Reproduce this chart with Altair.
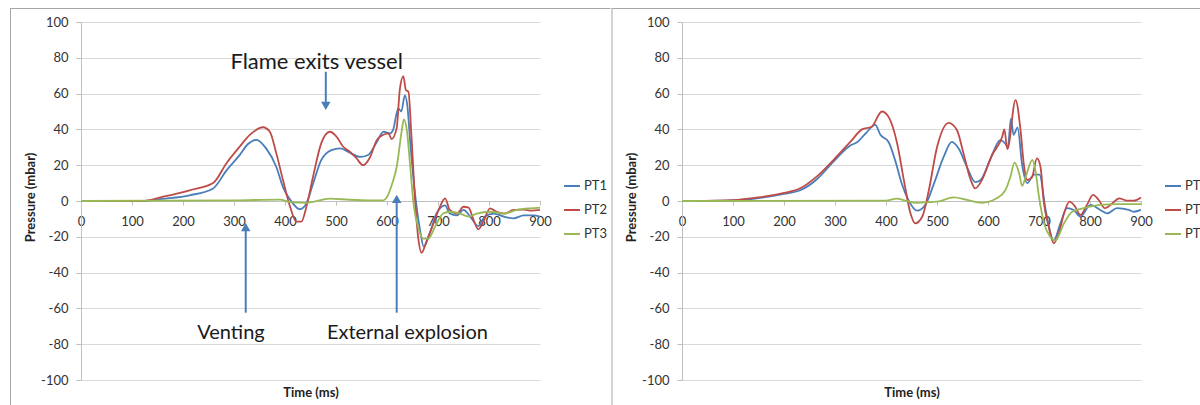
import altair as alt
import pandas as pd

# ---------------- data ----------------
SERIES = ["PT1", "PT2", "PT3"]
COLORS = ["#4A7EBB", "#BE4B48", "#98B954"]
X_TICKS = [0, 100, 200, 300, 400, 500, 600, 700, 800, 900]
Y_TICKS = [-100, -80, -60, -40, -20, 0, 20, 40, 60, 80, 100]

# Left panel
L_PT1_T = [0, 120, 160, 213, 259, 285, 311, 328, 344, 363, 383, 396, 413, 429, 442, 455, 471, 491, 508,
           527, 547, 563, 580, 593, 606, 612, 622, 628, 635, 640, 646, 655, 665, 672, 684, 697, 714, 723,
           737, 750, 763, 779, 792, 809, 829, 848, 868, 887, 900]
L_PT1_V = [0, 0, 1.2, 3.2, 7, 17, 25.6, 32, 34.2, 29.4, 19, 7.8, -0.4, -4.6, -1.3, 9.7, 22.8, 28.4, 29.4,
           27, 24.6, 25.7, 33, 38.7, 37.8, 39.7, 51.8, 50, 59, 53, 31, 4, -16.5, -25.5, -18, -7, -2.4, -7,
           -8, -5, -8.7, -14, -8.7, -7, -8.7, -9.7, -8, -8, -8.7]

L_PT2_T = [0, 120, 161, 213, 259, 285, 311, 331, 357, 370, 383, 396, 410, 422, 432, 442, 455, 471, 488,
           501, 514, 527, 540, 553, 566, 580, 593, 603, 609, 619, 625, 632, 637, 642, 648, 655, 661, 668,
           678, 691, 703, 714, 723, 737, 750, 760, 770, 779, 789, 802, 815, 831, 848, 868, 884, 900]
L_PT2_V = [0, 0, 2.4, 6, 10, 21, 30.3, 36.9, 41.2, 38.8, 26.6, 11.7, -3.2, -11.5, -11.5, -3.2, 13.6, 32.2,
           38.7, 36, 30.3, 27.6, 23.9, 20, 24, 34, 37, 37.8, 34.6, 40.7, 62, 69.8, 62, 61, 36, 0.4, -20,
           -28.9, -22, -12.7, -3.7, 1.5, -5, -7, -3.2, -3.7, -10.8, -15.8, -11.5, -4.1, -6, -7, -5, -4.8,
           -5.4, -5]

L_PT3_T = [0, 300, 390, 410, 442, 488, 527, 566, 593, 600, 609, 619, 629, 633, 639, 645, 652, 661, 671,
           681, 694, 710, 723, 743, 760, 776, 802, 829, 855, 881, 900]
L_PT3_V = [0, 0.3, 0.8, -0.6, -1, 1.3, 0.7, 0.4, 0.4, 2.2, 8.7, 19, 39.5, 45.6, 39.5, 21, -1.5, -14.5,
           -21, -21, -14.5, -7, -6, -7, -8.7, -7, -6, -7, -5, -4.1, -3.7]

# Right panel
R_PT1_T = [0, 100, 200, 232, 264, 297, 330, 344, 360, 379, 389, 405, 418, 431, 444, 461, 477, 494, 513,
           529, 543, 559, 575, 585, 605, 624, 634, 639, 645, 650, 658, 667, 677, 690, 701, 713, 729, 742,
           755, 768, 781, 801, 820, 834, 853, 876, 886, 900]
R_PT1_V = [0, 0.3, 4, 6, 12, 22, 31, 33, 37.7, 42.5, 37, 33, 22.7, 9.6, 0.5, -5.4, -2.2, 9.7, 24.6, 33,
           29, 18.8, 10.6, 11.6, 23.7, 34, 32, 30, 46, 37, 41, 20, 10, 14.7, 14.7, -5, -22, -12.5, -4, -5,
           -8.7, -2.2, -5, -6.9, -4, -5, -6, -5]

R_PT2_T = [0, 100, 150, 200, 232, 264, 297, 330, 353, 372, 392, 405, 422, 435, 448, 457, 471, 484, 500,
           523, 539, 552, 565, 575, 588, 608, 628, 632, 638, 654, 664, 670, 677, 686, 696, 703, 709, 719,
           729, 739, 749, 760, 771, 781, 794, 806, 817, 829, 844, 857, 873, 886, 900]
R_PT2_V = [0, 0.5, 2, 4.5, 7.1, 13.6, 22.9, 33, 40, 41.5, 50, 47, 32, 11.7, -6.9, -12.5, -8.8, 6, 30,
           43.7, 39.7, 26.6, 12.7, 7, 11.7, 25.7, 36, 40, 29, 56.4, 39, 21, 11.7, 13, 23.8, 19, 0.5, -14.3,
           -23.6, -18, -7, -0.4, -3.2, -7.8, -2.2, 3.4, 0.6, -4, -1.3, 1.5, 0.2, 0.2, 2]

R_PT3_T = [0, 400, 421, 440, 460, 500, 533, 559, 588, 617, 634, 644, 652, 661, 667, 674, 687, 693, 700,
           710, 722, 732, 749, 765, 788, 820, 853, 900]
R_PT3_V = [0, 0.2, 1.3, 0, -1, -0.4, 2, 0.6, -1, 1.5, 6, 13.6, 21.4, 15.5, 8.4, 13.6, 22.9, 17, 2.4,
           -12.5, -20, -22, -12.5, -6, -4, -2.2, -1.7, -1.7]

# Annotations (left panel)
ANN_TEXT = ["Flame exits vessel", "Venting", "External explosion"]
ANN_T = [462, 294, 640]
ANN_P = [73.7, -77.1, -77.1]
ANN_SIZE = [22, 20, 20]
ARROW_T = [480, 323, 619]
ARROW_TAIL = [72.2, -62.4, -62.4]
ARROW_HEAD = [53.1, -14.6, 1.2]
ARROW_DIR = ["down", "up", "up"]

# ---------------- chart ----------------
W, H = 459, 358


def long_df(ts, vs):
    rows = []
    for name, t, v in zip(SERIES, ts, vs):
        for a, b in zip(t, v):
            rows.append({"series": name, "t": a, "p": b})
    return pd.DataFrame(rows)


xs = alt.Scale(domain=[0, 900], nice=False, zero=False)
ys = alt.Scale(domain=[-100, 100], nice=False, zero=False)

x_axis = alt.Axis(values=X_TICKS, title="Time (ms)", offset=-179, titleY=191, titleBaseline="middle",
                  grid=False, tickSize=4, labelPadding=10, labelFlush=False, labelOverlap=False,
                  labelExpr="'' + datum.value")
y_axis = alt.Axis(values=Y_TICKS, title="Pressure (mbar)", titleX=-51, titleY=175,
                  titleBaseline="middle", titleAlign="center", grid=True, tickSize=5, labelPadding=8,
                  labelOverlap=False, labelExpr="'' + datum.value")


def X():
    return alt.X("t:Q", scale=xs, axis=x_axis)


def Y():
    return alt.Y("p:Q", scale=ys, axis=y_axis)


def lines(df):
    return alt.Chart(df).mark_line(interpolate="monotone", strokeWidth=1.8).encode(
        x=X(), y=Y(),
        color=alt.Color("series:N", scale=alt.Scale(domain=SERIES, range=COLORS),
                        legend=alt.Legend(orient="none", legendX=482, legendY=155, title=None,
                                          symbolType="stroke", symbolSize=256, symbolStrokeWidth=2,
                                          labelFont="Lato", labelFontSize=13, labelColor="#333333",
                                          rowPadding=8, labelOffset=3, padding=0)),
        order=alt.Order("t:Q"),
    )


def frame(x0):
    d = alt.Data(values=[{}])
    v = alt.Chart(d).mark_rule(color="#a6a6a6", strokeWidth=1).encode(
        x=alt.value(x0), y=alt.value(-14), y2=alt.value(420))
    h = alt.Chart(d).mark_rule(color="#a6a6a6", strokeWidth=1).encode(
        x=alt.value(x0), x2=alt.value(x0 + 600), y=alt.value(-13.5))
    return v + h


ann_df = pd.DataFrame({"label": ANN_TEXT, "t": ANN_T, "p": ANN_P, "size": ANN_SIZE})
arr_df = pd.DataFrame({"t": ARROW_T, "p": ARROW_TAIL, "p2": ARROW_HEAD, "dir": ARROW_DIR})
head_df = pd.DataFrame({"t": ARROW_T, "p": ARROW_HEAD, "dir": ARROW_DIR})

texts = alt.Chart(ann_df).mark_text(font="Lato", baseline="alphabetic", align="center",
                                    color="#1a1a1a").encode(
    x=X(), y=Y(), text="label:N",
    size=alt.Size("size:Q", scale=None, legend=None))
shafts = alt.Chart(arr_df).mark_rule(color="#4A7EBB", strokeWidth=2).encode(x=X(), y=Y(), y2="p2:Q")
heads = alt.Chart(head_df).mark_point(filled=True, size=90, opacity=1, color="#4A7EBB").encode(
    x=X(), y=Y(),
    shape=alt.Shape("dir:N", scale=alt.Scale(domain=["down", "up"], range=["triangle-down", "triangle-up"]),
                    legend=None))

left = alt.layer(
    frame(-70.5),
    lines(long_df([L_PT1_T, L_PT2_T, L_PT3_T], [L_PT1_V, L_PT2_V, L_PT3_V])),
    shafts, heads, texts,
).properties(width=W, height=H)

right = alt.layer(
    frame(-70),
    lines(long_df([R_PT1_T, R_PT2_T, R_PT3_T], [R_PT1_V, R_PT2_V, R_PT3_V])),
).properties(width=W, height=H)

chart = alt.hconcat(left, right, spacing=142, bounds="flush").resolve_scale(
    color="independent", shape="independent", size="independent").resolve_legend(
    color="independent").properties(
    autosize=alt.AutoSizeParams(type="none"),
    padding={"left": 81, "top": 22, "right": 1200 - 81, "bottom": 405 - 22},
    background="white",
).configure_view(stroke=None).configure_axis(
    labelFont="Lato", labelFontSize=13, labelColor="#333333",
    titleFont="Lato", titleFontSize=13, titleFontWeight="bold", titleColor="#222222",
    gridColor="#d9d9d9", domainColor="#bfbfbf", tickColor="#bfbfbf",
)

chart.save("out.html", embed_options={"renderer": "svg", "actions": False})
